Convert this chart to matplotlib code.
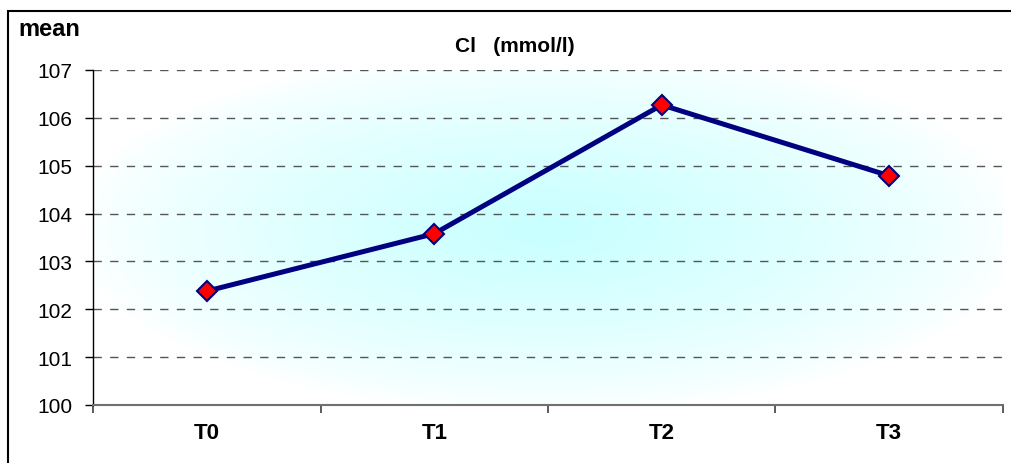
import numpy as np
import matplotlib.pyplot as plt
from matplotlib.patches import Rectangle
from matplotlib.colors import to_rgb

plt.rcParams['font.family'] = ['Liberation Sans', 'DejaVu Sans']

# data
categories = ['T0', 'T1', 'T2', 'T3']
values = [102.38, 103.58, 106.27, 104.79]
y_ticks = [100, 101, 102, 103, 104, 105, 106, 107]

W, H = 1011, 464
fig = plt.figure(figsize=(W / 100, H / 100), dpi=100)
ax = fig.add_axes([93 / W, 58 / H, 910 / W, 335 / H])

# radial cyan gradient background
nx, ny = 400, 200
gx, gy = np.meshgrid(np.linspace(-1, 1, nx), np.linspace(-1, 1, ny))
r = np.sqrt((gx / 1.05) ** 2 + ((gy + 0.05) / 1.1) ** 2)
f = np.clip(1 - r, 0, 1) ** 0.75
c0 = np.array(to_rgb('white'))
c1 = np.array(to_rgb('#c8ffff'))
img = c0 + (c1 - c0) * f[..., None]
ax.imshow(img, extent=[0, 1, 0, 1], transform=ax.transAxes, aspect='auto',
          zorder=0, interpolation='bilinear')

x = np.arange(len(categories))
ax.plot(x, values, color='#000080', lw=3.6, zorder=3,
        marker='D', markersize=10.5, markerfacecolor='#ff0000',
        markeredgecolor='#000080', markeredgewidth=1.5)

ax.set_xlim(-0.5, 3.5)
ax.set_ylim(100, 107)
ax.set_yticks(y_ticks)
ax.set_xticks(x)
ax.set_xticklabels(categories, fontsize=16, fontweight='bold')
ax.set_xticks(np.arange(-0.5, 4, 1), minor=True)
ax.tick_params(axis='x', which='major', length=0, pad=12)
ax.tick_params(axis='x', which='minor', length=6, width=1.2, color='#404040')
ax.tick_params(axis='y', length=6, width=1, color='black', labelsize=15, pad=9)
for yv in y_ticks[1:]:
    ax.axhline(yv, color='#555555', lw=1, ls=(0, (6, 6)), zorder=1)

for s in ['top', 'right']:
    ax.spines[s].set_visible(False)
ax.spines['bottom'].set_color('#707070')
ax.spines['bottom'].set_linewidth(1.5)
ax.spines['left'].set_color('black')
ax.spines['left'].set_linewidth(1)

fig.text(515 / W, 1 - 47 / H, 'Cl   (mmol/l)', ha='center', va='center',
         fontsize=15, fontweight='bold')
fig.text(18 / W, 1 - 30 / H, 'mean', ha='left', va='center',
         fontsize=17, fontweight='bold')

fig.add_artist(Rectangle((8 / W, -0.1), 1.2, 1.1 - 12 / H, fill=False,
                         lw=1.5, edgecolor='black', transform=fig.transFigure))

fig.savefig('out.png', dpi=100)
